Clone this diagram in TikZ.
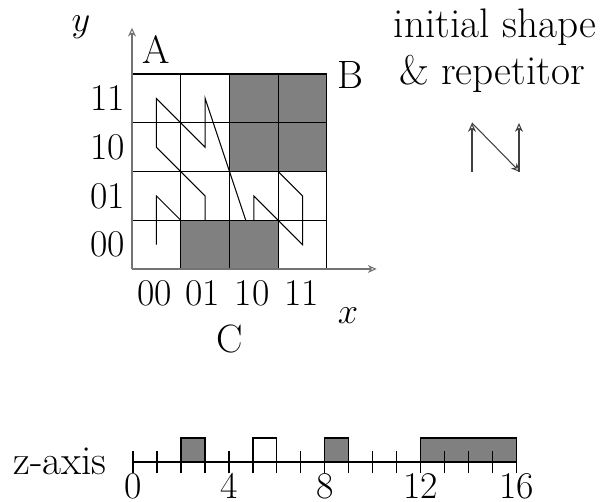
\documentclass[tikz,border=0pt]{standalone}
\usetikzlibrary{arrows.meta}
\begin{document}
\begin{tikzpicture}[x=0.02cm,y=0.02cm,
  every node/.style={font=\fontsize{22.5}{27}\selectfont, inner sep=0pt},
  digit/.style={font=\fontsize{21.5}{26}\selectfont},
  words/.style={font=\fontsize{23.5}{28}\selectfont},
  thinline/.style={line width=0.6pt},
  axisline/.style={line width=0.6pt, draw=black!55, -{Stealth[open,length=5pt,width=4.5pt,inset=1.5pt]}},
  openarrow/.style={line width=0.6pt, draw=black!75, -{Stealth[open,length=5pt,width=4.5pt,inset=1.5pt]}},
  shaded/.style={fill=black!50, draw=black, line width=0.6pt}]
\useasboundingbox (0,0) rectangle (600,502);
% ---- grid with N-order curve
\begin{scope}[shift={(132,233)}, x=0.975cm, y=0.975cm]
  \draw[thinline] (0.5,0.5) -- (0.5,1.5) -- (1.5,0.5) -- (1.5,1.5)
    -- (0.5,2.5) -- (0.5,3.5) -- (1.5,2.5) -- (1.5,3.5)
    -- (2.5,0.5) -- (2.5,1.5) -- (3.5,0.5) -- (3.5,1.5)
    -- (2.5,2.5) -- (2.5,3.5) -- (3.5,2.5) -- (3.5,3.5);
  \fill[shaded] (1,0) rectangle (3,1);
  \fill[shaded] (2,2) rectangle (4,4);
  \foreach \i in {1,...,4} {
    \draw[thinline] (\i,0) -- (\i,4);
    \draw[thinline] (0,\i) -- (4,\i);
  }
  \coordinate (o) at (0,0);
  \coordinate (xend) at (5.02,0);
  \coordinate (yend) at (0,4.95);
  \draw[axisline] (o) -- (xend);
  \draw[axisline] (o) -- (yend);
  \node[digit, anchor=east] (r11) at (-0.14,3.5) {11};
  \node[digit, anchor=east] (r10) at (-0.14,2.5) {10};
  \node[digit, anchor=east] (r01) at (-0.14,1.5) {01};
  \node[digit, anchor=east] (r00) at (-0.14,0.5) {00};
\end{scope}
\node[digit] (c00) at (155,209) {00};
\node[digit] (c01) at (203,209) {01};
\node[digit] (c10) at (252,209) {10};
\node[digit] (c11) at (302,209) {11};
\node (ylab) at (81,475) {$y$};
\node (xlab) at (348,186) {$x$};
\node (A) at (156,452) {A};
\node (B) at (350,427) {B};
\node (C) at (230,163) {C};
% ---- initial shape & repetitor
\node[words, anchor=base] (t1) at (495,464) {initial shape};
\node[words, anchor=base] (t2) at (492,417) {\& repetitor};
\coordinate (p1) at (472,330);
\coordinate (p2) at (472,379);
\coordinate (p3) at (520,330);
\coordinate (p4) at (519,330);
\coordinate (p5) at (519,379);
\draw[openarrow] (p1) -- (p2);
\draw[openarrow] (p2) -- (p3);
\draw[openarrow] (p4) -- (p5);
% ---- z-axis
\node[words, anchor=base] (zlab) at (60,27) {z-axis};
\begin{scope}[shift={(133,40)}, x=0.48cm, y=0.48cm]
  \fill[shaded] (2,0) rectangle (3,1);
  \draw[thinline] (5,0) rectangle (6,1);
  \fill[shaded] (8,0) rectangle (9,1);
  \fill[shaded] (12,0) rectangle (16,1);
  \coordinate (z0) at (0,0);
  \coordinate (z16) at (16,0);
  \draw[thinline] (z0) -- (z16);
  \foreach \k in {0,...,16} { \draw[thinline] (\k,-0.47) -- (\k,0.47); }
  \foreach \k in {0,4,8,12,16} { \node[digit, anchor=north] (zl\k) at (\k,-0.47) {\k}; }
\end{scope}
\end{tikzpicture}
\end{document}
